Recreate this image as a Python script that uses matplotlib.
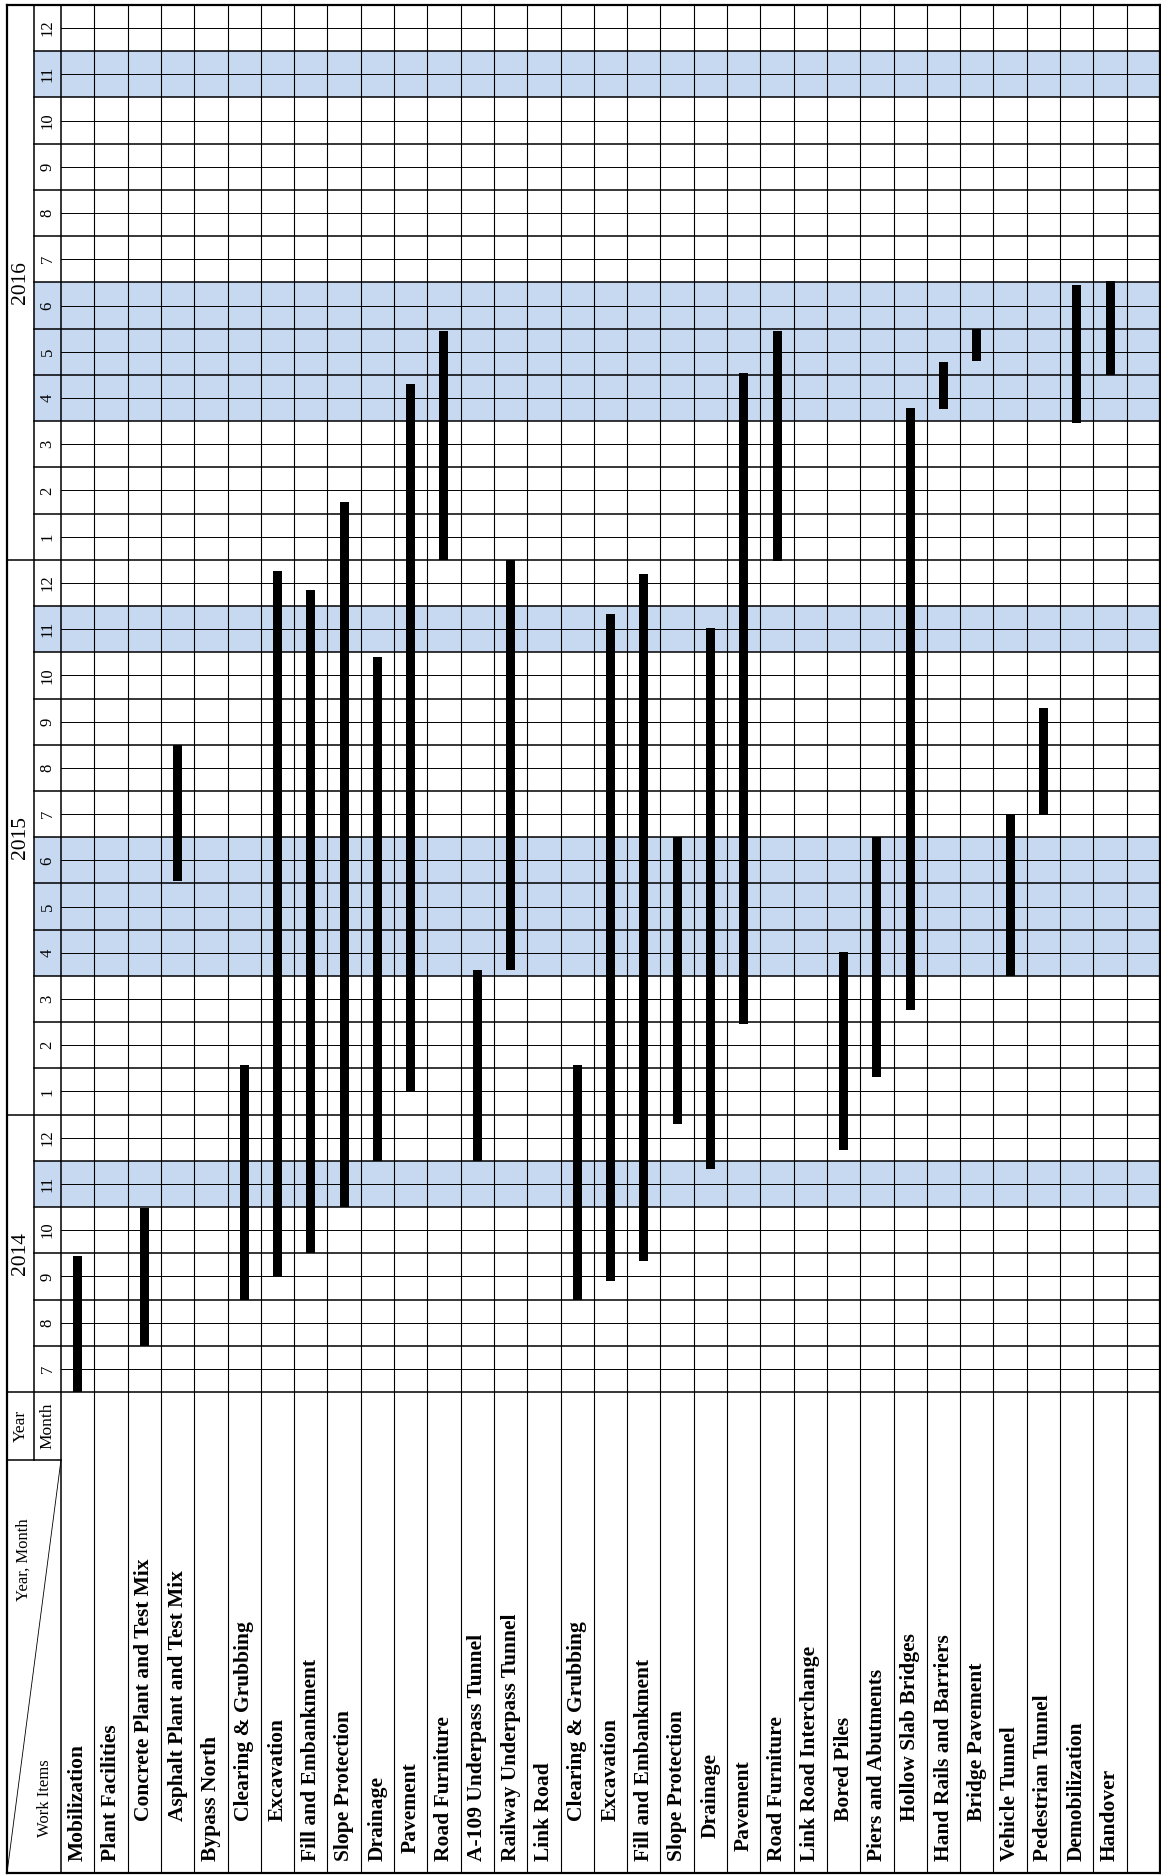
import matplotlib
matplotlib.use('Agg')
import matplotlib.pyplot as plt

# ---------------- data ----------------
items = ["Mobilization", "Plant Facilities", "Concrete Plant and Test Mix",
         "Asphalt Plant and Test Mix", "Bypass North", "Clearing & Grubbing",
         "Excavation", "Fill and Embankment", "Slope Protection", "Drainage",
         "Pavement", "Road Furniture", "A-109 Underpass Tunnel",
         "Railway Underpass Tunnel", "Link Road", "Clearing & Grubbing",
         "Excavation", "Fill and Embankment", "Slope Protection", "Drainage",
         "Pavement", "Road Furniture", "Link Road Interchange", "Bored Piles",
         "Piers and Abutments", "Hollow Slab Bridges", "Hand Rails and Barriers",
         "Bridge Pavement", "Vehicle Tunnel", "Pedestrian Tunnel",
         "Demobilization", "Handover", ""]
# bar start / end, in months counted from the start of July 2014 (None = no bar)
bar_start = [0.0, None, 1.0, 11.05, None, 2.0, 2.5, 3.0, 4.0, 5.0, 6.5, 18.0,
             5.0, 9.13, None, 2.0, 2.4, 2.83, 5.8, 4.82, 7.97, 17.97, None,
             5.23, 6.82, 8.27, 21.26, 22.3, 9.0, 12.48, 20.96, 22.0, None]
bar_end = [2.95, None, 3.97, 14.0, None, 7.07, 17.75, 17.35, 19.25, 15.9, 21.8,
           22.95, 9.13, 18.0, None, 7.07, 16.83, 17.7, 12.0, 16.52, 22.05, 22.95,
           None, 9.52, 12.01, 21.28, 22.28, 23.0, 12.5, 14.8, 23.95, 24.02, None]
years = ["2014", "2015", "2016"]
year_months = [6, 12, 12]
month_labels = [7, 8, 9, 10, 11, 12] + list(range(1, 13)) + list(range(1, 13))
shaded_months = [4, 9, 10, 11, 16, 21, 22, 23, 28]   # month index (0 = Jul 2014)

# ---------------- style / layout ----------------
indent_px = [0, 0, 40, 40, 0, 40, 40, 0, 0, 0, 8, 0, 0, 0, 0, 40, 40, 0, 0, 23,
             10, 0, 0, 40, 0, 40, 0, 40, 0, 0, 0, 0, 0]
FONT = "Liberation Serif"
BLUE = "#C6D9F1"
W_PX = 1099 / 33.0          # px per column
H_PX = 1387 / 30.0          # px per month
YEARCOL = 27 / W_PX
MONCOL = 27 / W_PX
HEADER = 481 / H_PX
ncol = len(items)
nmon = len(month_labels)

fig = plt.figure(figsize=(11.61, 18.76), dpi=100)
ax = fig.add_axes([7 / 1161, 3 / 1876, 1153 / 1161, 1868 / 1876])
left = -(YEARCOL + MONCOL)
ax.set_xlim(left, ncol)
ax.set_ylim(-HEADER, nmon)
ax.set_xticks([])
ax.set_yticks([])
for s in ax.spines.values():
    s.set_linewidth(1.6)
    s.set_zorder(10)

# shading
for m in shaded_months:
    ax.axhspan(m, m + 1, xmin=(-MONCOL - left) / (ncol - left), xmax=1,
               color=BLUE, lw=0, zorder=0)

THICK = 1.1
THIN = 0.7
# horizontal month boundaries
year_bounds = [0]
for n in year_months:
    year_bounds.append(year_bounds[-1] + n)
for t in range(nmon + 1):
    x0 = left if t in year_bounds else -MONCOL
    ax.plot([x0, ncol], [t, t], color="black", lw=THICK, zorder=2)
    if t < nmon:
        ax.plot([0, ncol], [t + 0.5, t + 0.5], color="black", lw=THIN, zorder=2)

# vertical lines
for c in range(0, ncol):
    ax.plot([c, c], [-HEADER, nmon], color="black", lw=THICK if c == 0 else 0.8, zorder=2)
ax.plot([-MONCOL, -MONCOL], [-1.47, nmon], color="black", lw=THICK, zorder=2)
ax.plot([left, 0], [-1.47, -1.47], color="black", lw=THICK, zorder=2)
ax.plot([0, left], [-1.47, -HEADER], color="black", lw=0.6, zorder=2)

# month labels
for t, m in enumerate(month_labels):
    ax.text(-MONCOL / 2, t + 0.5, str(m), rotation=90, ha="center", va="center",
            fontsize=12, family=FONT, zorder=5)
# year labels
for y, n, b in zip(years, year_months, year_bounds):
    ax.text(left + YEARCOL / 2, b + n / 2, y, rotation=90, ha="center", va="center",
            fontsize=15.5, family=FONT, zorder=5)

# header texts
ax.text(left + YEARCOL / 2, -0.735, "Year", rotation=90, ha="center", va="center",
        fontsize=12.5, family=FONT)
ax.text(-MONCOL / 2, -0.735, "Month", rotation=90, ha="center", va="center",
        fontsize=12.5, family=FONT)
ax.text(left + 0.5, (1392 - 1560) / H_PX, "Year, Month", rotation=90, ha="center",
        va="center", fontsize=12, family=FONT)
ax.text(left + 1.15, (1392 - 1798) / H_PX, "Work Items", rotation=90, ha="center",
        va="center", fontsize=12, family=FONT)

# item labels
for i, (name, ind) in enumerate(zip(items, indent_px)):
    if name:
        ax.text(i + 0.5, (1392 - 1861 + ind) / H_PX, name, rotation=90,
                ha="center", va="bottom", fontsize=15.5, fontweight="bold",
                family=FONT, zorder=5)

# bars
xs = [i + 0.5 for i, s in enumerate(bar_start) if s is not None]
bots = [s for s in bar_start if s is not None]
hts = [e - s for s, e in zip(bar_start, bar_end) if s is not None]
ax.bar(xs, hts, bottom=bots, width=0.27, color="black", zorder=6)

fig.savefig("out.png", dpi=100)
